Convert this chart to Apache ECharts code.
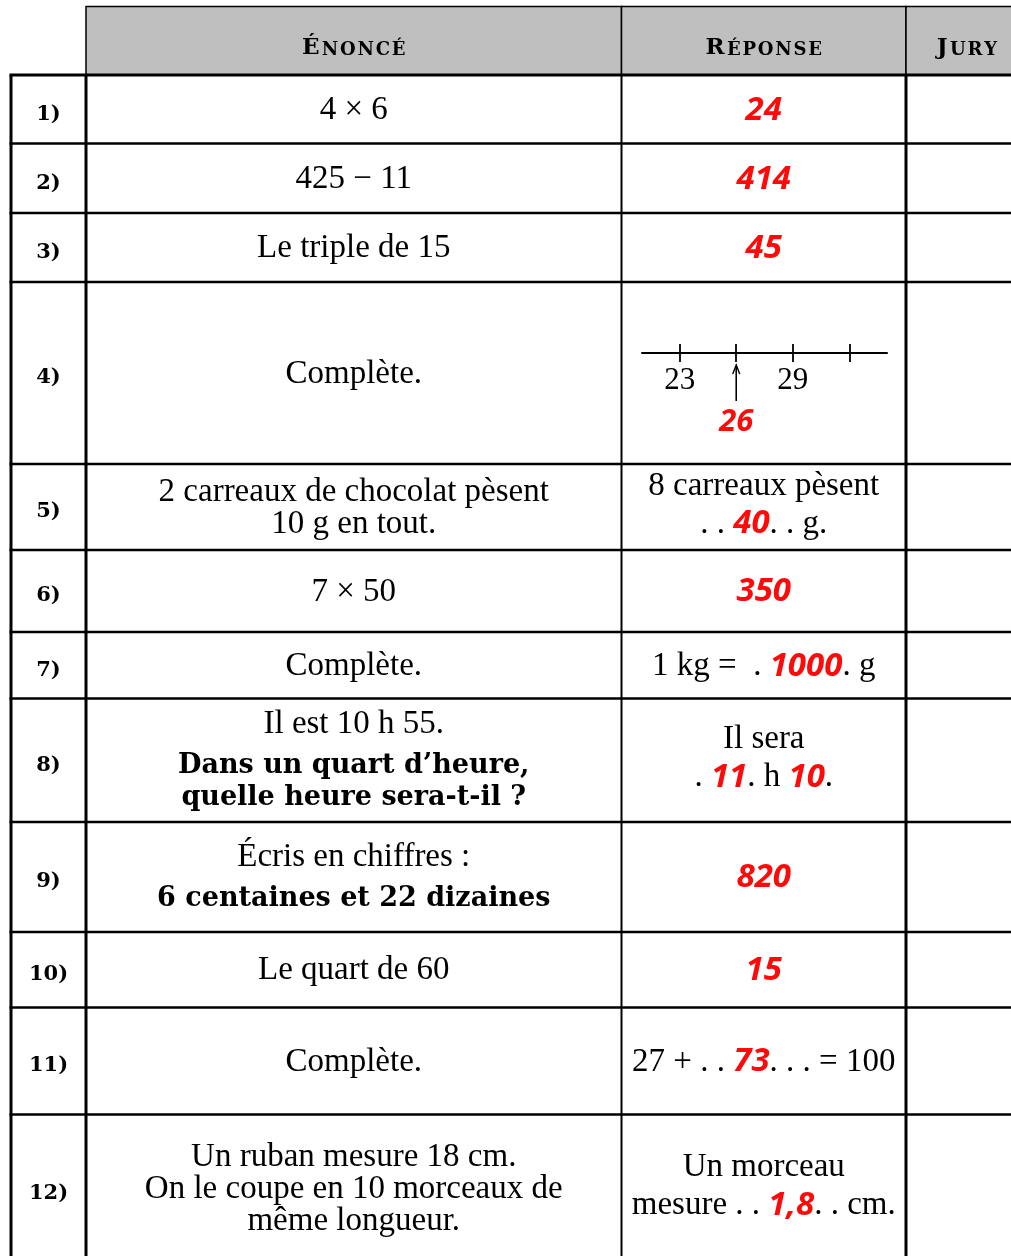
<!DOCTYPE html>
<html lang="fr">
<head>
<meta charset="utf-8">
<title>Calcul mental</title>
<script src="https://cdn.jsdelivr.net/npm/echarts@6/dist/echarts.min.js"></script>
<style>
  html, body { margin: 0; padding: 0; background: #fff; }
  #tableau { width: 1011px; height: 1256px; }
</style>
</head>
<body>
<div id="tableau"></div>
<script>
// contenu du tableau
const numeros = ['1)', '2)', '3)', '4)', '5)', '6)', '7)', '8)', '9)', '10)', '11)', '12)']
const entetes = ['Énoncé', 'Réponse', 'Jury']
const enonces = [
  '4 × 6',
  '425 − 11',
  'Le triple de 15',
  'Complète.',
  '2 carreaux de chocolat pèsent\n10 g en tout.',
  '7 × 50',
  'Complète.',
  'Il est 10 h 55.',
  'Écris en chiffres :',
  'Le quart de 60',
  'Complète.',
  'Un ruban mesure 18 cm.\nOn le coupe en 10 morceaux de\nmême longueur.'
]
// partie en gras de l'énoncé
const consignes = ['', '', '', '', '', '', '', 'Dans un quart d’heure,\nquelle heure sera-t-il ?', '6 centaines et 22 dizaines', '', '', '']
// texte de la réponse, {0} {1} = réponse manuscrite
const reponsesTextes = [
  '{0}',
  '{0}',
  '{0}',
  '',
  '8 carreaux pèsent\n. . {0}. . g.',
  '{0}',
  '1 kg =  . {0}. g',
  'Il sera\n. {0}. h {1}.',
  '{0}',
  '{0}',
  '27 + . . {0}. . . = 100',
  'Un morceau\nmesure . . {0}. . cm.'
]
const reponses = [['24'], ['414'], ['45'], ['26'], ['40'], ['350'], ['1000'], ['11', '10'], ['820'], ['15'], ['73'], ['1,8']]

// droite graduée de la question 4
const graduations = [23, 26, 29, 32]
const graduationsNommees = [23, 29]
const valeurFleche = 26

// géométrie du tableau (pixels de la page)
const bordsColonnes = [11, 86, 621.5, 906, 1028]
const bordsLignes = [75, 143.5, 213, 282, 464, 550, 632, 698.5, 822, 932, 1007.5, 1114.5, 1262]
const hautEntete = 6.5

const SERIF = '"Liberation Serif", "DejaVu Serif", serif'
const SERIF_GRAS = '"DejaVu Serif", "Liberation Serif", serif'
const MAIN = '"Noto Sans", "DejaVu Sans", sans-serif'
const ROUGE = '#ff0a0a'

const styleNormal = { fontFamily: SERIF, fontSize: 33, lineHeight: 32, fill: '#000' }
const styleManuscrit = { fontFamily: MAIN, fontStyle: 'italic', fontWeight: 'bold', fontSize: 33, lineHeight: 44, fill: ROUGE }

const chart = echarts.init(document.getElementById('tableau'))

const dessinerEntete = (params, api) => {
  const i = api.value(0)
  const p0 = api.coord([bordsColonnes[i + 1], hautEntete])
  const p1 = api.coord([bordsColonnes[i + 2], bordsLignes[0]])
  const mot = entetes[i].toUpperCase()
  const reste = mot.slice(1).split('').join('\u200a')
  return {
    type: 'group',
    children: [
      {
        type: 'rect',
        shape: { x: p0[0], y: p0[1], width: p1[0] - p0[0], height: p1[1] - p0[1] },
        style: { fill: '#bfbfbf', stroke: '#000', lineWidth: 1.5 }
      },
      {
        type: 'text',
        x: (p0[0] + p1[0]) / 2,
        y: (p0[1] + p1[1]) / 2 + 5,
        style: {
          text: '{g|' + mot[0] + '\u200a}{p|' + reste + '}',
          align: 'center',
          verticalAlign: 'middle',
          rich: {
            g: { fontFamily: SERIF_GRAS, fontWeight: 'bold', fontSize: 23, lineHeight: 28, verticalAlign: 'bottom', fill: '#000' },
            p: { fontFamily: SERIF_GRAS, fontWeight: 'bold', fontSize: 18, lineHeight: 28, verticalAlign: 'bottom', fill: '#000' }
          }
        }
      }
    ]
  }
}

// traits horizontaux
const dessinerTraitH = (params, api) => {
  const k = api.value(0)
  const a = api.coord([bordsColonnes[0] - 1.5, bordsLignes[k]])
  const b = api.coord([bordsColonnes[bordsColonnes.length - 1], bordsLignes[k]])
  return {
    type: 'line',
    shape: { x1: a[0], y1: a[1], x2: b[0], y2: b[1] },
    style: { stroke: '#000', lineWidth: k === 0 ? 3 : 2.6 }
  }
}

// traits verticaux
const dessinerTraitV = (params, api) => {
  const k = api.value(0)
  const a = api.coord([bordsColonnes[k], bordsLignes[0]])
  const b = api.coord([bordsColonnes[k], bordsLignes[bordsLignes.length - 1]])
  return {
    type: 'line',
    shape: { x1: a[0], y1: a[1], x2: b[0], y2: b[1] },
    style: { stroke: '#000', lineWidth: k === 2 ? 2 : 3 }
  }
}

const texteRiche = (modele, valeurs) => {
  const corps = modele.replace(/\{(\d)\}/g, (m, i) => '}{r|' + valeurs[+i] + '}{n|')
  return '{n|' + corps + '}'
}

const dessinerLigne = (params, api) => {
  const r = api.value(0)
  const yc = (bordsLignes[r] + bordsLignes[r + 1]) / 2
  const pNum = api.coord([(bordsColonnes[0] + bordsColonnes[1]) / 2, yc])
  const pEno = api.coord([(bordsColonnes[1] + bordsColonnes[2]) / 2, yc])
  const pRep = api.coord([(bordsColonnes[2] + bordsColonnes[3]) / 2, yc])
  const enfants = [
    {
      type: 'text', x: pNum[0], y: pNum[1] + 5,
      style: { text: numeros[r], fontFamily: SERIF_GRAS, fontWeight: 'bold', fontSize: 21, fill: '#000', align: 'center', verticalAlign: 'middle' }
    }
  ]
  const n1 = enonces[r].split('\n').length
  if (consignes[r]) {
    const n2 = consignes[r].split('\n').length
    const ecart = 10
    const total = n1 * 32 + ecart + n2 * 32
    const haut = pEno[1] - total / 2 + 1
    enfants.push({
      type: 'text', x: pEno[0], y: haut + n1 * 16,
      style: { text: enonces[r], fontFamily: SERIF, fontSize: 33, lineHeight: 32, fill: '#000', align: 'center', verticalAlign: 'middle' }
    })
    enfants.push({
      type: 'text', x: pEno[0], y: haut + n1 * 32 + ecart + n2 * 16,
      style: { text: consignes[r], fontFamily: SERIF_GRAS, fontWeight: 'bold', fontSize: 27, lineHeight: 32, fill: '#000', align: 'center', verticalAlign: 'middle' }
    })
  } else {
    enfants.push({
      type: 'text', x: pEno[0], y: pEno[1] + 1,
      style: { text: enonces[r], fontFamily: SERIF, fontSize: 33, lineHeight: 32, fill: '#000', align: 'center', verticalAlign: 'middle' }
    })
  }
  if (reponsesTextes[r]) {
    enfants.push({
      type: 'text', x: pRep[0], y: pRep[1] + 1,
      style: {
        text: texteRiche(reponsesTextes[r], reponses[r]),
        align: 'center',
        verticalAlign: 'middle',
        rich: { n: styleNormal, r: styleManuscrit }
      }
    })
  }
  return { type: 'group', children: enfants }
}

// flèche et réponse sur la droite graduée
const dessinerFleche = (params, api) => {
  const p = api.coord([api.value(0), api.value(1)])
  const x = p[0]
  const y = p[1]
  return {
    type: 'group',
    children: [
      { type: 'line', shape: { x1: x, y1: y + 48, x2: x, y2: y + 13 }, style: { stroke: '#000', lineWidth: 1.6 } },
      { type: 'polyline', shape: { points: [[x - 3.5, y + 21], [x, y + 12], [x + 3.5, y + 21]] }, style: { stroke: '#000', lineWidth: 1.4, fill: null } },
      {
        type: 'text', x: x, y: y + 69,
        style: { text: reponses[3][0], fontFamily: MAIN, fontStyle: 'italic', fontWeight: 'bold', fontSize: 31, fill: ROUGE, align: 'center', verticalAlign: 'middle' }
      }
    ]
  }
}

chart.setOption({
  animation: false,
  backgroundColor: '#fff',
  grid: [
    { left: 0, top: 0, width: 1011, height: 1256, outerBoundsMode: 'none' },
    { left: 642, top: 343, width: 245, height: 10, outerBoundsMode: 'none' }
  ],
  xAxis: [
    { type: 'value', gridIndex: 0, min: 0, max: 1011, show: false },
    {
      type: 'value', gridIndex: 1, min: 21, max: 34, position: 'bottom',
      axisLine: { show: true, lineStyle: { color: '#000', width: 2 } },
      axisTick: { show: true, customValues: graduations, length: 9, inside: false, lineStyle: { color: '#000', width: 1.8 } },
      axisLabel: { show: true, customValues: graduationsNommees, margin: 12, fontFamily: SERIF, fontSize: 31, color: '#000' },
      splitLine: { show: false }
    },
    {
      type: 'value', gridIndex: 1, min: 21, max: 34, position: 'bottom',
      axisLine: { show: false },
      axisTick: { show: true, customValues: graduations, length: 9, inside: true, lineStyle: { color: '#000', width: 1.8 } },
      axisLabel: { show: false },
      splitLine: { show: false }
    }
  ],
  yAxis: [
    { type: 'value', gridIndex: 0, min: 0, max: 1256, inverse: true, show: false },
    { type: 'value', gridIndex: 1, min: 0, max: 1, show: false }
  ],
  series: [
    {
      type: 'custom', name: 'entête', xAxisIndex: 0, yAxisIndex: 0, silent: true,
      renderItem: dessinerEntete,
      data: entetes.map((t, i) => [i, 0])
    },
    {
      type: 'custom', name: 'traits horizontaux', xAxisIndex: 0, yAxisIndex: 0, silent: true,
      renderItem: dessinerTraitH,
      data: bordsLignes.map((y, k) => [k, 0])
    },
    {
      type: 'custom', name: 'traits verticaux', xAxisIndex: 0, yAxisIndex: 0, silent: true,
      renderItem: dessinerTraitV,
      data: bordsColonnes.slice(0, 4).map((x, k) => [k, 0])
    },
    {
      type: 'custom', name: 'questions', xAxisIndex: 0, yAxisIndex: 0, silent: true,
      renderItem: dessinerLigne,
      data: numeros.map((n, r) => [r, 0])
    },
    {
      type: 'custom', name: 'flèche', xAxisIndex: 1, yAxisIndex: 1, silent: true,
      renderItem: dessinerFleche,
      data: [[valeurFleche, 0]]
    }
  ]
})
</script>
</body>
</html>
